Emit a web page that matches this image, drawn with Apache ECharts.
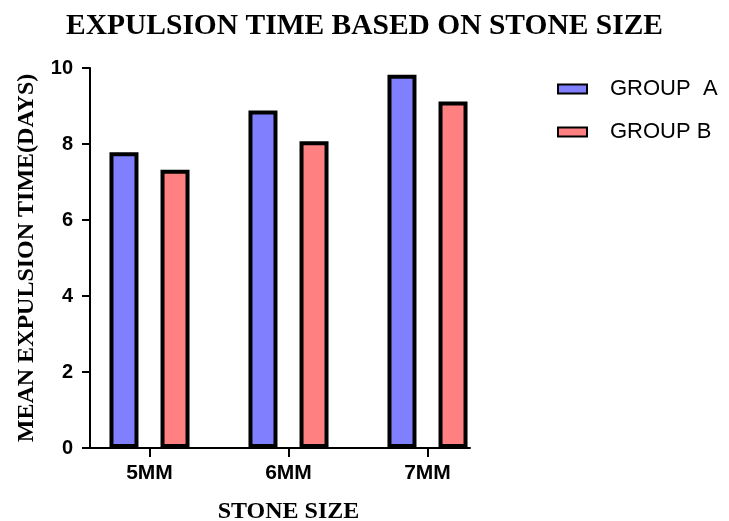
<!DOCTYPE html>
<html>
<head>
<meta charset="utf-8">
<script src="https://cdn.jsdelivr.net/npm/echarts@6/dist/echarts.min.js"></script>
<style>html,body{margin:0;padding:0;background:#fff;}#c{width:729px;height:521px;}</style>
</head>
<body>
<div id="c"></div>
<script>
const categories = ['5MM', '6MM', '7MM'];
const groupA = [7.78, 8.88, 9.82];
const groupB = [7.32, 8.07, 9.12];
const seriesNames = ['GROUP  A', 'GROUP B'];
const yTicks = [0, 2, 4, 6, 8, 10];
const titleText = 'EXPULSION TIME BASED ON STONE SIZE';
const yName = 'MEAN EXPULSION TIME(DAYS)';
const xName = 'STONE SIZE';

const chart = echarts.init(document.getElementById('c'), null, {renderer: 'canvas'});
const serif = '"Liberation Serif", "Times New Roman", serif';
const sans = '"Liberation Sans", Arial, sans-serif';
chart.setOption({
  animation: false,
  backgroundColor: '#ffffff',
  title: {
    text: titleText, left: 'center', top: 6,
    textStyle: {fontFamily: serif, fontWeight: 'bold', fontSize: 29.5, color: '#000'}
  },
  legend: {
    orient: 'vertical', left: 557, top: 78, padding: 0, itemWidth: 29, itemHeight: 9, itemGap: 21,
    icon: 'rect',
    textStyle: {fontFamily: sans, fontSize: 22, color: '#000', padding: [0, 0, 0, 18]},
    data: seriesNames
  },
  grid: [
    {left: 90, width: 380, top: 68, height: 380, outerBoundsMode: 'none', containLabel: false},
    {left: 80, width: 417, top: 68, height: 380, outerBoundsMode: 'none', containLabel: false}
  ],
  xAxis: [
    {
      type: 'value', gridIndex: 0, min: 0, max: 1,
      axisLine: {show: true, onZero: false, lineStyle: {color: '#000', width: 2}},
      axisTick: {show: false}, axisLabel: {show: false}, splitLine: {show: false}
    },
    {
      type: 'category', gridIndex: 1, data: categories,
      axisLine: {show: true, onZero: false, lineStyle: {color: 'rgba(0,0,0,0)', width: 2}},
      axisTick: {show: true, alignWithLabel: true, interval: 0, inside: false, length: 9,
        lineStyle: {color: '#000', width: 2}},
      axisLabel: {margin: 15, interval: 0, fontFamily: sans, fontWeight: 'bold', fontSize: 21, color: '#000'},
      name: xName, nameLocation: 'middle', nameGap: 52,
      nameTextStyle: {fontFamily: serif, fontWeight: 'bold', fontSize: 24, color: '#000'}
    }
  ],
  yAxis: [
    {
      type: 'value', gridIndex: 0, min: 0, max: 10, interval: 2,
      axisLine: {show: true, lineStyle: {color: '#000', width: 2}},
      axisTick: {show: true, length: 8, lineStyle: {color: '#000', width: 2}},
      axisLabel: {margin: 17, fontFamily: sans, fontWeight: 'bold', fontSize: 20, color: '#000',
        formatter: v => yTicks.includes(v) ? String(v) : ''},
      splitLine: {show: false},
      name: yName, nameLocation: 'middle', nameGap: 51, nameRotate: 90,
      nameTextStyle: {fontFamily: serif, fontWeight: 'bold', fontSize: 24, color: '#000'}
    },
    {type: 'value', gridIndex: 1, min: 0, max: 10, axisLine: {show: false}, axisTick: {show: false},
      axisLabel: {show: false}, splitLine: {show: false}}
  ],
  series: [
    {
      name: seriesNames[0], type: 'bar', xAxisIndex: 1, yAxisIndex: 1, data: groupA,
      barWidth: 29, barGap: '76%',
      itemStyle: {color: '#8080ff', borderColor: '#000', borderWidth: 4}
    },
    {
      name: seriesNames[1], type: 'bar', xAxisIndex: 1, yAxisIndex: 1, data: groupB,
      barWidth: 29, barGap: '76%',
      itemStyle: {color: '#ff8080', borderColor: '#000', borderWidth: 4}
    }
  ]
});
</script>
</body>
</html>
